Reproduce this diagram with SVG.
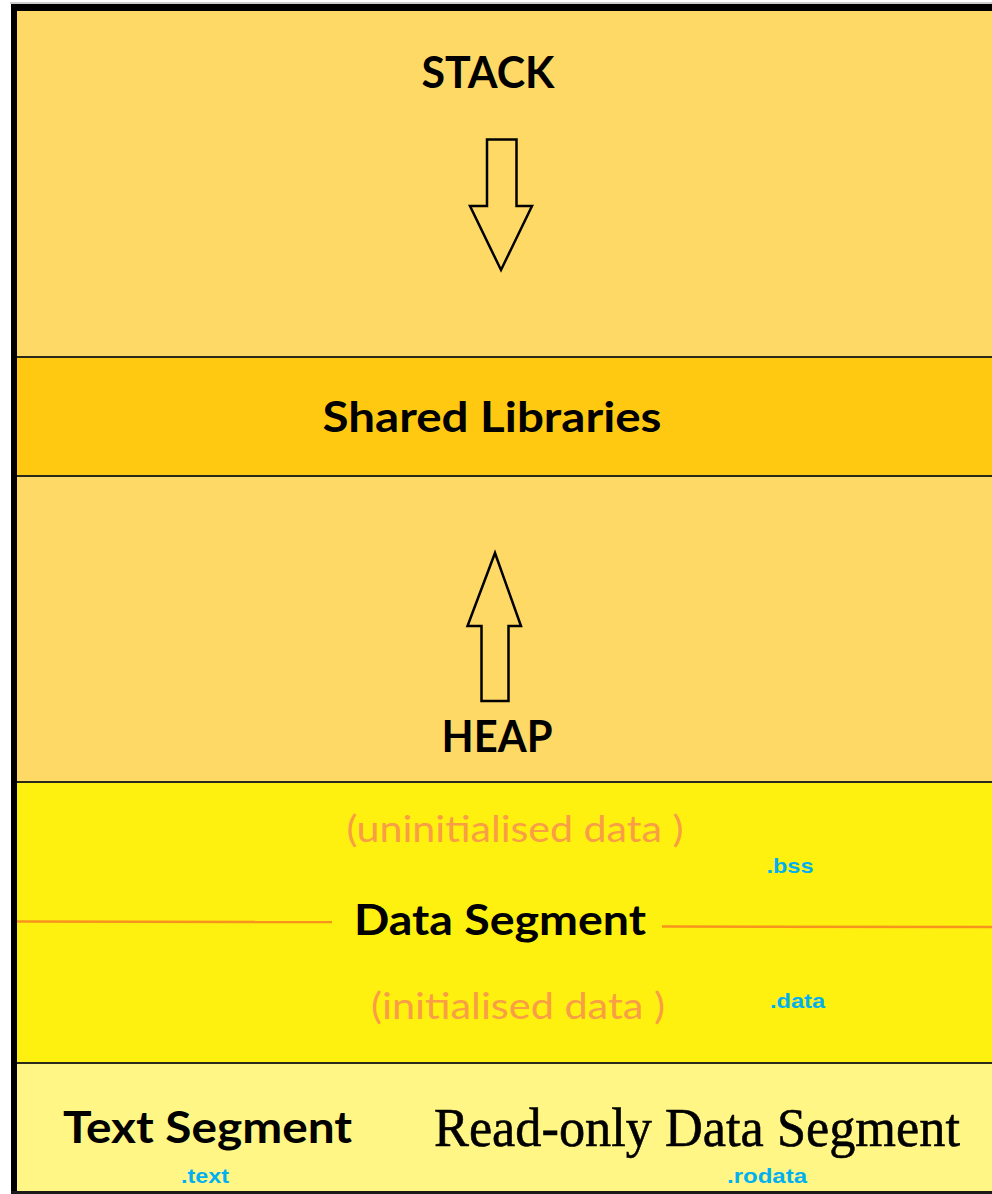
<svg xmlns="http://www.w3.org/2000/svg" width="992" height="1194" viewBox="0 0 992 1194">
  <style>
    .lbl { font-family: Lato, "Open Sans", sans-serif; font-weight: bold; fill: #000; text-anchor: middle; }
    .note { font-family: Lato, "Open Sans", sans-serif; fill: #F99E45; text-anchor: middle; }
    .sec { font-family: "Liberation Sans", Arial, sans-serif; font-weight: bold; fill: #00B0F0; text-anchor: middle; }
    .divider { stroke: #2a2a1a; stroke-width: 2; }
    .arrow { fill: none; stroke: #000; stroke-width: 2.5; stroke-linejoin: miter; }
    .split { stroke: #F7941D; stroke-width: 2.5; }
  </style>

  <rect x="0" y="0" width="992" height="1194" fill="#ffffff"/>

  <!-- memory regions, top to bottom -->
  <g id="stack">
    <rect x="17" y="11" width="975" height="346" fill="#FFD966"/>
    <text class="lbl" x="488" y="88" font-size="43" textLength="133" lengthAdjust="spacingAndGlyphs">STACK</text>
  </g>

  <g id="shared-libraries">
    <rect x="17" y="357" width="975" height="119" fill="#FFC912"/>
    <text class="lbl" x="492" y="432" font-size="42" textLength="339" lengthAdjust="spacingAndGlyphs">Shared Libraries</text>
  </g>

  <g id="heap">
    <rect x="17" y="476" width="975" height="306" fill="#FFD966"/>
    <text class="lbl" x="497" y="752" font-size="44" textLength="111" lengthAdjust="spacingAndGlyphs">HEAP</text>
  </g>

  <g id="data-segment">
    <rect x="17" y="782" width="975" height="281" fill="#FFF10F"/>
    <text class="note" x="515" y="842" font-size="37" textLength="337" lengthAdjust="spacingAndGlyphs">(uninitialised data )</text>
    <text class="sec" x="790" y="873" font-size="21" textLength="47" lengthAdjust="spacingAndGlyphs">.bss</text>
    <line class="split" x1="17" y1="921.5" x2="332" y2="922"/>
    <line class="split" x1="662" y1="926.5" x2="992" y2="927"/>
    <text class="lbl" x="500" y="935" font-size="42" textLength="292" lengthAdjust="spacingAndGlyphs">Data Segment</text>
    <text class="note" x="518" y="1019" font-size="37" textLength="294" lengthAdjust="spacingAndGlyphs">(initialised data )</text>
    <text class="sec" x="797.5" y="1008" font-size="21" textLength="55" lengthAdjust="spacingAndGlyphs">.data</text>
  </g>

  <g id="text-segment">
    <rect x="17" y="1063" width="975" height="129" fill="#FFF685"/>
    <text class="lbl" x="207.5" y="1143" font-size="44" textLength="289" lengthAdjust="spacingAndGlyphs">Text Segment</text>
    <text class="sec" x="205" y="1183" font-size="20" textLength="48" lengthAdjust="spacingAndGlyphs">.text</text>
    <text x="697" y="1146" font-family="'Liberation Serif', 'Times New Roman', serif" font-size="55" fill="#000" stroke="#000" stroke-width="0.6" text-anchor="middle" textLength="526" lengthAdjust="spacingAndGlyphs">Read-only Data Segment</text>
    <text class="sec" x="767" y="1183" font-size="20" textLength="80" lengthAdjust="spacingAndGlyphs">.rodata</text>
  </g>

  <!-- growth arrows and region boundaries -->
  <g id="connectors">
    <line class="divider" x1="17" y1="357" x2="992" y2="357"/>
    <line class="divider" x1="17" y1="476" x2="992" y2="476"/>
    <line class="divider" x1="17" y1="782" x2="992" y2="782"/>
    <line class="divider" x1="17" y1="1063" x2="992" y2="1063"/>
    <!-- stack grows down -->
    <path class="arrow" d="M487,139.5 L516.5,139.5 L516.5,206 L532,206 L501,270 L470,206 L487,206 Z"/>
    <!-- heap grows up -->
    <path class="arrow" d="M481.5,701 L508.5,701 L508.5,626 L521,626 L495,553 L467.5,626 L481.5,626 Z"/>
  </g>

  <!-- outer frame: top, left and bottom edges -->
  <g id="frame">
    <line x1="10" y1="3" x2="992" y2="3" stroke="#9a9a9a" stroke-width="1"/>
    <rect x="11" y="4" width="981" height="7" fill="#000"/>
    <rect x="11" y="4" width="6" height="1190" fill="#000"/>
    <rect x="11" y="1191" width="981" height="3" fill="#1a1a1a"/>
  </g>
</svg>
